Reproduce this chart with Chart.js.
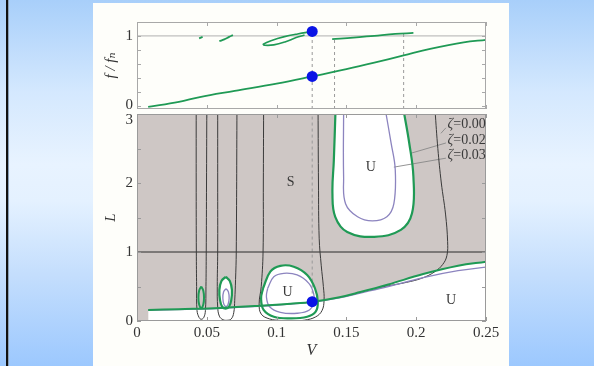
<!DOCTYPE html>
<html>
<head>
<meta charset="utf-8">
<script src="https://cdn.jsdelivr.net/npm/chart.js@4.4.1/dist/chart.umd.min.js"></script>
<style>
    html, body { margin: 0; padding: 0; }
    body {
        width: 594px; height: 366px; overflow: hidden; position: relative;
        background: linear-gradient(to bottom, #a8cffa 0%, #d4e8fe 25%, #e8f3ff 45%, #e4f1ff 55%, #c4defd 75%, #9cc8fe 100%);
    }
    #edge { position: absolute; left: 6px; top: 0; width: 2px; height: 366px; background: #111; }
    #edge2 { position: absolute; left: 8px; top: 0; width: 1px; height: 366px; background: #8aa0b8; }
    #panel { position: absolute; left: 93px; top: 3px; width: 416px; height: 366px; background: #fefefa; }
    canvas { position: absolute; left: 0; top: 0; pointer-events: none; }
</style>
</head>
<body>
<div id="edge"></div><div id="edge2"></div>
<div id="panel"></div>
<canvas id="freqChart" width="594" height="366"></canvas>
<canvas id="stabChart" width="594" height="366"></canvas>
<script>
// ---- top panel: f/fn against V ----
const lowV = [0.008, 0.03, 0.045, 0.07, 0.1, 0.1255, 0.15, 0.17, 0.191, 0.21, 0.234, 0.25];
const lowF = [-0.02, 0.054, 0.122, 0.21, 0.314, 0.418, 0.523, 0.616, 0.72, 0.814, 0.908, 0.944];
const up1V = [0.0445, 0.047];
const up1F = [0.965, 0.986];
const up2V = [0.059, 0.0625, 0.066, 0.0687];
const up2F = [0.924, 0.95, 0.986, 1.012];
const up3V = [0.1255, 0.115, 0.105, 0.097, 0.0905, 0.0915, 0.098, 0.106, 0.114, 0.12];
const up3F = [1.064, 1.028, 0.986, 0.939, 0.882, 0.866, 0.871, 0.913, 0.976, 1.012];
const up4V = [0.1398, 0.155, 0.17, 0.185, 0.198];
const up4F = [0.955, 0.976, 1.002, 1.028, 1.043];
const cutV = [0.1255, 0.1415, 0.191];
const cutF = [1.064, 0.955, 1.033];
const dotF = [0.418, 1.064];
const topTicks = [0, 0.2, 0.4, 0.6, 0.8, 1];

// ---- bottom panel: L against V ----
const greenLowV = [0.008, 0.03, 0.06, 0.088, 0.11, 0.126, 0.145, 0.16, 0.18, 0.205, 0.23, 0.25];
const greenLowL = [0.16, 0.172, 0.19, 0.22, 0.25, 0.28, 0.345, 0.42, 0.53, 0.68, 0.8, 0.86];
const purpleLowV = [0.008, 0.06, 0.11, 0.126, 0.145, 0.16, 0.18, 0.205, 0.23, 0.25];
const purpleLowL = [0.155, 0.185, 0.245, 0.275, 0.335, 0.405, 0.5, 0.63, 0.73, 0.78];
const bubV = [0.0903, 0.0955, 0.1027, 0.1123, 0.1219, 0.1275, 0.1295, 0.128, 0.1219, 0.110, 0.098, 0.0907, 0.0889, 0.0903];
const bubL = [0.474, 0.715, 0.80, 0.787, 0.667, 0.474, 0.28, 0.135, 0.062, 0.039, 0.062, 0.16, 0.33, 0.474];
const bubPV = [0.0936, 0.098, 0.1051, 0.1147, 0.1231, 0.1265, 0.1268, 0.1235, 0.1147, 0.1027, 0.095, 0.0927, 0.0936];
const bubPL = [0.474, 0.642, 0.691, 0.667, 0.546, 0.401, 0.28, 0.159, 0.112, 0.126, 0.207, 0.352, 0.474];
const e1V = [0.046, 0.0475, 0.048, 0.0475, 0.046, 0.0445, 0.044, 0.0445, 0.046];
const e1L = [0.5, 0.44, 0.34, 0.24, 0.19, 0.24, 0.34, 0.44, 0.5];
const e2V = [0.0636, 0.0665, 0.068, 0.0675, 0.066, 0.0636, 0.061, 0.0595, 0.059, 0.0605, 0.0636];
const e2L = [0.64, 0.58, 0.45, 0.3, 0.21, 0.18, 0.21, 0.3, 0.45, 0.58, 0.64];
const e2pV = [0.0638, 0.0655, 0.066, 0.0652, 0.0638, 0.0623, 0.0615, 0.062, 0.0638];
const e2pL = [0.47, 0.42, 0.33, 0.24, 0.21, 0.24, 0.33, 0.42, 0.47];
const bigUV = [0.1422, 0.141, 0.140, 0.142, 0.1506, 0.170, 0.189, 0.197, 0.198, 0.195, 0.191];
const bigUL = [3.05, 2.33, 1.85, 1.51, 1.29, 1.22, 1.32, 1.56, 2.09, 2.58, 3.05];
const bigUPV = [0.148, 0.148, 0.1494, 0.158, 0.1686, 0.179, 0.184, 0.185, 0.182, 0.178];
const bigUPL = [3.05, 2.09, 1.7, 1.51, 1.45, 1.51, 1.7, 2.19, 2.58, 3.05];
const tube1V = [0.0424, 0.0424, 0.0425, 0.0427, 0.043, 0.0445, 0.046, 0.0478, 0.049, 0.0494, 0.0496, 0.0498, 0.050];
const tube1L = [3.05, 2, 1, 0.5, 0.15, 0.05, 0.025, 0.05, 0.15, 0.5, 1, 2, 3.05];
const tube2V = [0.0578, 0.0578, 0.0578, 0.0575, 0.0578, 0.059, 0.0615, 0.0645, 0.0675, 0.0693, 0.070, 0.0706, 0.0711, 0.0716];
const tube2L = [3.05, 2, 1, 0.5, 0.2, 0.07, 0.02, 0.01, 0.03, 0.12, 0.3, 0.6, 1, 3.05];
const tube3V = [0.0907, 0.0905, 0.0903, 0.089, 0.0875, 0.089, 0.095, 0.103, 0.112, 0.12, 0.128, 0.1325, 0.134, 0.1335, 0.132, 0.1305, 0.130, 0.1297];
const tube3L = [3.05, 2, 1, 0.5, 0.25, 0.1, 0.03, 0.008, 0.003, 0.012, 0.06, 0.15, 0.3, 0.5, 0.8, 1.2, 2, 3.05];
const rightV = [0.2135, 0.2155, 0.218, 0.221, 0.2225, 0.222, 0.219, 0.213, 0.204, 0.193, 0.18, 0.172];
const rightL = [3.05, 2.5, 2.0, 1.55, 1.15, 0.95, 0.82, 0.71, 0.62, 0.56, 0.51, 0.48];
const dotL = 0.28;

const regionText = ['S', 'U', 'U', 'U'];
const regionV = [0.110, 0.1078, 0.1674, 0.2249];
const regionL = [2.01, 0.42, 2.23, 0.30];
const zetaText = ['0.00', '0.02', '0.03'];
const zetaV = [0.2225, 0.2225, 0.2225];
const zetaL = [2.855, 2.62, 2.405];
const leadFromV = [0.2213, 0.2213, 0.2213];
const leadFromL = [2.80, 2.58, 2.36];
const leadToV = [0.2177, 0.196, 0.184];
const leadToL = [2.72, 2.43, 2.23];

const GREEN = '#1f9a55';
const PURPLE = '#8c84bf';
const BLACK = '#3a3a3a';
const DASH = '#9a9a9a';
const BLUE = '#0a14e6';

const pts = (xs, ys) => xs.map((x, i) => ({x, y: ys[i]}));

function curve(data, color, width, order, extra) {
    return Object.assign({
        data, borderColor: color, borderWidth: width, pointRadius: 0,
        tension: 0.4, fill: false, order
    }, extra || {});
}

Chart.defaults.font.family = "'Liberation Serif', 'DejaVu Serif', serif";
Chart.defaults.color = '#333';

// gray "stable" background, drawn before anything else
const panelBg = {
    id: 'panelBg',
    beforeDraw(chart, args, opts) {
        if (!opts.color) return;
        const {ctx, chartArea: a} = chart;
        ctx.save();
        ctx.fillStyle = opts.color;
        ctx.fillRect(a.left, a.top, a.width, a.height);
        ctx.restore();
    }
};

// box round the plot with inward tick marks on every side
const frameTicks = {
    id: 'frameTicks',
    afterDatasetsDraw(chart, args, opts) {
        const {ctx, chartArea: a, scales: {x, y}} = chart;
        const len = opts.len || 4;
        ctx.save();
        ctx.strokeStyle = opts.color || '#999';
        ctx.lineWidth = 1;
        ctx.strokeRect(a.left + 0.5, a.top + 0.5, a.width - 1, a.height - 1);
        ctx.beginPath();
        x.ticks.forEach(t => {
            const px = Math.round(x.getPixelForValue(t.value)) + 0.5;
            ctx.moveTo(px, a.bottom); ctx.lineTo(px, a.bottom - len);
            ctx.moveTo(px, a.top); ctx.lineTo(px, a.top + len);
        });
        y.ticks.forEach(t => {
            const py = Math.round(y.getPixelForValue(t.value)) + 0.5;
            ctx.moveTo(a.left, py); ctx.lineTo(a.left + len, py);
            ctx.moveTo(a.right, py); ctx.lineTo(a.right - len, py);
        });
        ctx.stroke();
        ctx.restore();
    }
};

// S / U region marks and the damping key
const stabTexts = {
    id: 'stabTexts',
    afterDatasetsDraw(chart) {
        const {ctx, scales: {x, y}} = chart;
        ctx.save();
        ctx.fillStyle = '#3a3a3a';
        ctx.textBaseline = 'middle';
        ctx.textAlign = 'center';
        ctx.font = "14px 'Liberation Serif'";
        regionText.forEach((t, i) => {
            ctx.fillText(t, x.getPixelForValue(regionV[i]), y.getPixelForValue(regionL[i]));
        });
        ctx.textAlign = 'left';
        zetaText.forEach((t, i) => {
            const px = x.getPixelForValue(zetaV[i]);
            const py = y.getPixelForValue(zetaL[i]);
            ctx.font = "italic 14px 'Liberation Serif'";
            ctx.fillText('\u03b6', px, py);
            const w = ctx.measureText('\u03b6').width;
            ctx.font = "14px 'Liberation Serif'";
            ctx.fillText('=' + t, px + w, py);
        });
        ctx.restore();
    }
};

const baseScaleX = {
    type: 'linear', min: 0, max: 0.25,
    grid: {display: false, drawTicks: false},
    border: {display: false}
};

// ---------- top chart ----------
const topSets = [
    {data: pts([0.1255, 0.1255], dotF), showLine: false, pointRadius: 5.5, pointBackgroundColor: BLUE, pointBorderWidth: 0, order: 0},
    curve(pts(lowV, lowF), GREEN, 1.8, 1),
    curve(pts(up1V, up1F), GREEN, 1.8, 1),
    curve(pts(up2V, up2F), GREEN, 1.8, 1),
    curve(pts(up3V, up3F), GREEN, 1.6, 1),
    curve(pts(up4V, up4F), GREEN, 1.8, 1),
    curve(pts([0, 0.25], [1, 1]), '#b0b0b0', 1, 5, {tension: 0})
];
cutV.forEach((v, i) => {
    topSets.push(curve(pts([v, v], [-0.05, cutF[i]]), DASH, 1, 4, {tension: 0, borderDash: [3, 3]}));
});

new Chart(document.getElementById('freqChart'), {
    type: 'line',
    data: {datasets: topSets},
    options: {
        responsive: false, animation: false, devicePixelRatio: 1,
        layout: {padding: {left: 97, right: 108, top: 22, bottom: 257}},
        plugins: {
            legend: {display: false}, tooltip: {enabled: false},
            frameTicks: {color: '#a8a8a8', len: 4}
        },
        scales: {
            x: Object.assign({}, baseScaleX, {
                ticks: {display: false, stepSize: 0.05},
                afterFit: s => { s.height = 0; }
            }),
            y: {
                min: -0.05, max: 1.2,
                grid: {display: false, drawTicks: false},
                border: {display: false},
                afterBuildTicks: s => { s.ticks = topTicks.map(v => ({value: v})); },
                ticks: {
                    padding: 4, font: {size: 15}, autoSkip: false,
                    callback: v => (v === 0 || v === 1 ? String(v) : '')
                },
                title: {display: true, text: 'f / f\u2099', font: {size: 15, style: 'italic'}, padding: {top: 5, bottom: 0}},
                afterFit: s => { s.width = 40; }
            }
        }
    },
    plugins: [frameTicks]
});

// ---------- bottom chart ----------
const white = '#ffffff';
const botSets = [
    {data: [{x: 0.1255, y: dotL}], showLine: false, pointRadius: 5.5, pointBackgroundColor: BLUE, pointBorderWidth: 0, order: 0},
    curve(pts(greenLowV, greenLowL), GREEN, 2, 1, {fill: 'start', backgroundColor: white}),
    curve(pts(bubV, bubL), GREEN, 2.2, 1, {fill: 'shape', backgroundColor: white}),
    curve(pts(e1V, e1L), GREEN, 2, 1),
    curve(pts(e2V, e2L), GREEN, 2.2, 1, {fill: 'shape', backgroundColor: white}),
    curve(pts(bigUV, bigUL), GREEN, 2.2, 1, {fill: 'shape', backgroundColor: white}),
    curve(pts(purpleLowV, purpleLowL), PURPLE, 1.3, 2),
    curve(pts(bubPV, bubPL), PURPLE, 1.3, 2),
    curve(pts(e2pV, e2pL), PURPLE, 1.3, 2),
    curve(pts(bigUPV, bigUPL), PURPLE, 1.3, 2),
    curve(pts(tube1V, tube1L), BLACK, 1, 3),
    curve(pts(tube2V, tube2L), BLACK, 1, 3),
    curve(pts(tube3V, tube3L), BLACK, 1, 3),
    curve(pts(rightV, rightL), BLACK, 1, 3),
    curve(pts([0, 0.25], [1, 1]), '#2a2a2a', 1, 3, {tension: 0}),
    curve(pts([0.1255, 0.1255], [3.05, dotL]), DASH, 1, 4, {tension: 0, borderDash: [3, 3]})
];
leadFromV.forEach((v, i) => {
    botSets.push(curve(pts([v, leadToV[i]], [leadFromL[i], leadToL[i]]), '#888', 0.9, 3, {tension: 0}));
});

new Chart(document.getElementById('stabChart'), {
    type: 'line',
    data: {datasets: botSets},
    options: {
        responsive: false, animation: false, devicePixelRatio: 1,
        layout: {padding: {left: 97, right: 108, top: 114, bottom: 6}},
        plugins: {
            legend: {display: false}, tooltip: {enabled: false},
            filler: {drawTime: 'beforeDatasetsDraw'},
            panelBg: {color: '#cec7c5'},
            frameTicks: {color: '#9a9a9a', len: 4}
        },
        scales: {
            x: Object.assign({}, baseScaleX, {
                ticks: {stepSize: 0.05, padding: 3, font: {size: 15}, maxRotation: 0,
                    callback: v => String(+v.toFixed(2))},
                title: {display: true, text: 'V', font: {size: 16, style: 'italic'}, padding: {top: 0, bottom: 0}},
                afterFit: s => { s.height = 39; }
            }),
            y: {
                min: 0, max: 3,
                grid: {display: false, drawTicks: false},
                border: {display: false},
                ticks: {
                    stepSize: 0.5, padding: 4, font: {size: 15, lineHeight: 0.8}, autoSkip: false,
                    // the top label sits a little lower, clear of the upper panel
                    callback: v => (v === 3 ? ['', '3'] : (Number.isInteger(v) ? String(v) : ''))
                },
                title: {display: true, text: 'L', font: {size: 15, style: 'italic'}, padding: {top: 5, bottom: 0}},
                afterFit: s => { s.width = 40; }
            }
        }
    },
    plugins: [panelBg, frameTicks, stabTexts]
});
</script>
</body>
</html>
